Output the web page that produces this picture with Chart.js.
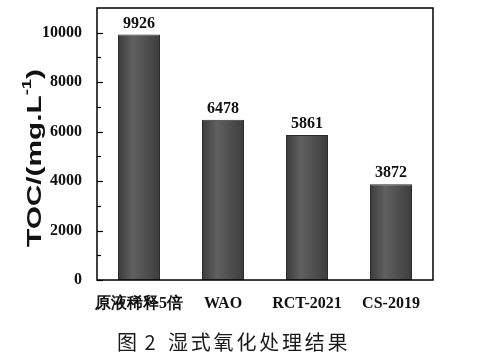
<!DOCTYPE html>
<html>
<head>
<meta charset="utf-8">
<script src="https://cdn.jsdelivr.net/npm/chart.js@4"></script>
<style>
  html, body { margin: 0; padding: 0; background: #fff; }
  #wrap { width: 477px; height: 362px; }
</style>
</head>
<body>
<div id="wrap"><canvas id="c" width="477" height="362"></canvas></div>
<script>
// datos
const categorias = ['原液稀释5倍', 'WAO', 'RCT-2021', 'CS-2019'];
const valoresTOC = [9926, 6478, 5861, 3872];
const ticksMayores = [0, 2000, 4000, 6000, 8000, 10000];
const ticksMenores = [1000, 3000, 5000, 7000, 9000];
const tituloY = 'TOC/(mg.L';
const tituloYSup = '-1';
const figNum = ['图', '2'];
const figTexto = '湿式氧化处理结果';

const serif = '"Liberation Serif", "Times New Roman", serif';
const sans = '"Liberation Sans", Arial, sans-serif';

// degradado en cada barra, como en el original
const degradado = {
  id: 'degradado',
  beforeDatasetsDraw(chart) {
    const { ctx } = chart;
    chart.getDatasetMeta(0).data.forEach(bar => {
      const x0 = bar.x - bar.width / 2, x1 = bar.x + bar.width / 2;
      const g = ctx.createLinearGradient(x0, 0, x1, 0);
      g.addColorStop(0, '#3c3c3c');
      g.addColorStop(0.35, '#606060');
      g.addColorStop(1, '#3d3d3d');
      bar.options = Object.assign({}, bar.options, { backgroundColor: g });
    });
  }
};

// marco, ticks hacia adentro, valores, titulo del eje y pie de figura
const extras = {
  id: 'extras',
  afterDraw(chart) {
    const { ctx, chartArea: a } = chart;
    const y = chart.scales.y;
    ctx.save();
    ctx.strokeStyle = '#000';
    ctx.lineWidth = 1.5;
    ctx.strokeRect(a.left, a.top, a.right - a.left, a.bottom - a.top);

    ctx.lineWidth = 1.2;
    ticksMayores.forEach(v => {
      const py = Math.round(y.getPixelForValue(v)) + 0.5;
      ctx.beginPath(); ctx.moveTo(a.left, py); ctx.lineTo(a.left + 6, py); ctx.stroke();
    });
    ticksMenores.forEach(v => {
      const py = Math.round(y.getPixelForValue(v)) + 0.5;
      ctx.beginPath(); ctx.moveTo(a.left, py); ctx.lineTo(a.left + 4, py); ctx.stroke();
    });

    const meta = chart.getDatasetMeta(0);
    ctx.fillStyle = '#111';
    ctx.font = 'bold 16px ' + serif;
    ctx.textAlign = 'center';
    ctx.textBaseline = 'bottom';
    meta.data.forEach((bar, i) => {
      ctx.fillText(String(valoresTOC[i]), bar.x, bar.y - 3);
    });

    // titulo eje Y con superindice, estirado como en la figura
    ctx.translate(35, 158);
    ctx.rotate(-Math.PI / 2);
    ctx.font = 'bold 21px ' + sans;
    const w1 = ctx.measureText(tituloY).width;
    ctx.font = 'bold 13px ' + sans;
    const w2 = ctx.measureText(tituloYSup).width;
    ctx.font = 'bold 21px ' + sans;
    const w3 = ctx.measureText(')').width;
    const total = w1 + w2 + w3;
    ctx.scale(178 / total, 1);
    let x0 = -total / 2;
    ctx.textAlign = 'left';
    ctx.textBaseline = 'middle';
    ctx.fillText(tituloY, x0, 0);
    ctx.font = 'bold 13px ' + sans;
    ctx.fillText(tituloYSup, x0 + w1, -8);
    ctx.font = 'bold 21px ' + sans;
    ctx.fillText(')', x0 + w1 + w2, 0);
    ctx.restore();

    ctx.save();
    ctx.fillStyle = '#1a1a1a';
    ctx.font = '20px "Noto Sans CJK SC", sans-serif';
    ctx.textAlign = 'center';
    ctx.textBaseline = 'middle';
    ctx.fillText(figNum[0], 127, 342);
    ctx.fillText(figNum[1], 150, 342);
    ctx.textAlign = 'left';
    ctx.letterSpacing = '2.8px';
    ctx.fillText(figTexto, 168, 342);
    ctx.restore();
  }
};

new Chart(document.getElementById('c').getContext('2d'), {
  type: 'bar',
  data: {
    labels: categorias,
    datasets: [{
      data: valoresTOC,
      backgroundColor: () => '#4f4f4f',
      borderColor: '#2b2b2b',
      borderWidth: 1,
      barPercentage: 0.5,
      categoryPercentage: 1
    }]
  },
  options: {
    responsive: false,
    animation: false,
    devicePixelRatio: 1,
    layout: { padding: { left: 0, top: 8, right: 44, bottom: 0 } },
    plugins: { legend: { display: false }, tooltip: { enabled: false } },
    scales: {
      x: {
        grid: { display: false },
        border: { display: false },
        ticks: {
          color: '#111',
          padding: 6,
          autoSkip: false,
          maxRotation: 0,
          font: { family: serif, size: 16, weight: 'bold' }
        },
        afterFit(s) { s.height = 82; s.paddingLeft = 0; s.paddingRight = 0; }
      },
      y: {
        min: 0,
        max: 11000,
        grid: { display: false },
        border: { display: false },
        afterBuildTicks(s) { s.ticks = ticksMayores.map(v => ({ value: v })); },
        ticks: {
          color: '#111',
          padding: 7,
          callback: v => String(v),
          font: { family: serif, size: 16, weight: 'bold' }
        },
        afterFit(s) { s.width = 97; s.paddingTop = 0; s.paddingBottom = 0; }
      }
    }
  },
  plugins: [degradado, extras]
});
</script>
</body>
</html>
